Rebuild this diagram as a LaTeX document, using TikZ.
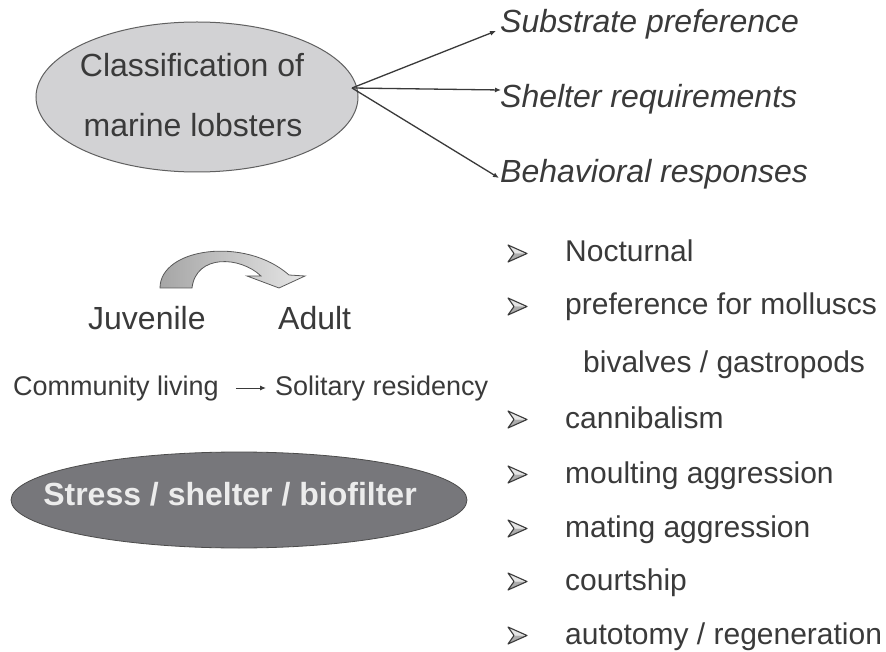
\documentclass[tikz,border=0pt]{standalone}
\usepackage{fontspec}
\setmainfont{Liberation Sans}
\usetikzlibrary{arrows.meta,shapes.geometric}
\definecolor{txt}{HTML}{3A3A3A}
\definecolor{lightell}{HTML}{D2D2D4}
\definecolor{darkell}{HTML}{77777B}
\tikzset{
  big/.style={font=\fontsize{32}{38}\selectfont, text=txt, inner sep=0pt, anchor=base west},
  ital/.style={font=\fontsize{32}{38}\selectfont\itshape, text=txt, inner sep=0pt, anchor=base west},
  item/.style={font=\fontsize{30}{36}\selectfont, text=txt, inner sep=0pt, anchor=base west},
  small/.style={font=\fontsize{27}{32}\selectfont, text=txt, inner sep=0pt, anchor=base west},
  conn/.style={draw=txt, line width=1.3pt, -{Latex[length=6pt,width=5pt]}},
  bul/.pic={
    \fill[gray!20] (0,-17) -- (19,-8.5) -- (6,-8.5) -- cycle;
    \fill[gray!65] (0,0) -- (19,-8.5) -- (6,-8.5) -- cycle;
    \draw[txt, line width=1.1pt, line join=round] (0,0) -- (19,-8.5) -- (0,-17) -- (6,-8.5) -- cycle;
  }
}
\begin{document}
\begin{tikzpicture}[x=1pt,y=-1pt]
\useasboundingbox[fill=white] (0,0) rectangle (886,652);

% top ellipse
\node[ellipse, draw=gray!75!black, line width=1pt, fill=lightell, minimum width=322pt, minimum height=150pt, inner sep=0pt] (cls) at (197,97) {};
\node[big, anchor=base] (cls1) at (192,77) {Classification of};
\node[big, anchor=base] (cls2) at (193,137) {marine lobsters};

\coordinate (src) at (352,88);
\node[ital] (sub) at (500,33) {Substrate preference};
\node[ital] (shel) at (500,108) {Shelter requirements};
\node[ital] (beh) at (500,183) {Behavioral responses};
\coordinate (e1) at (496,31);
\coordinate (e2) at (501,90);
\coordinate (e3) at (499,178);
\draw[conn] (src) -- (e1);
\draw[conn] (src) -- (e2);
\draw[conn] (src) -- (e3);

% curved arrow
\path[draw=gray!70!black, line width=0.8pt, left color=gray!70, right color=gray!20]
  (160,288) .. controls (160,248) and (245,236) .. (289,275)
  -- (305,276) -- (279,288) -- (247,276) -- (261,276)
  .. controls (240,256) and (196,254) .. (192,288) -- cycle;

\node[big] (juv) at (88,330) {Juvenile};
\node[big] (adu) at (278,330) {Adult};

\node[small] (comm) at (13,395) {Community living};
\node[small] (sol) at (275,395) {Solitary residency};
\draw[draw=txt, line width=1pt, -{Latex[length=6pt,width=5pt]}] ([xshift=17pt,yshift=7pt]comm.base east) -- ([xshift=-9pt,yshift=7pt]sol.base west);

% bottom ellipse
\node[ellipse, draw=gray!60!black, line width=0.8pt, fill=darkell, minimum width=456pt, minimum height=96pt, inner sep=0pt] (str) at (239,500) {};
\node[font=\fontsize{32}{38}\selectfont\bfseries, text=gray!15, inner sep=0pt, anchor=base] (strt) at (230,505) {Stress / shelter / biofilter};

% bullet list
\foreach \y/\t/\n in {262/Nocturnal/b1, 315/preference for molluscs/b2, 428/cannibalism/b4, 483/moulting aggression/b5, 537/mating aggression/b6, 590/courtship/b7}{
  \pic at (508,\y) {bul};
  \node[item] (\n) at (565,\y) {\t};
}
\pic at (508,644) {bul};
\node[item] (b8) at (565,644) {autotomy / regeneration};
\node[item] (b3) at (583,372) {bivalves / gastropods};
\end{tikzpicture}
\end{document}
